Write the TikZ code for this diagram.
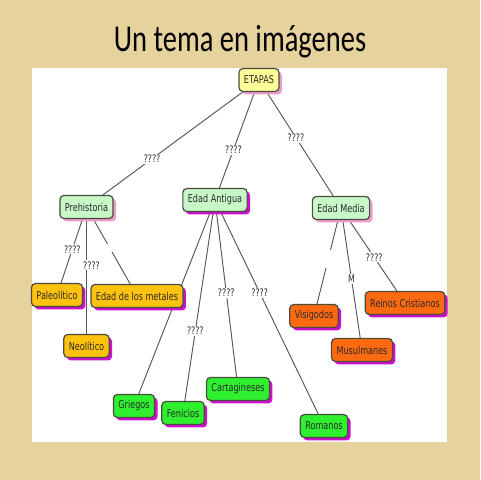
\documentclass[tikz,border=0pt]{standalone}
\usepackage{fontspec}
\usetikzlibrary{calc,shadows}
\newfontfamily\nodefont[FakeStretch=0.75]{DejaVu Sans}
\newfontfamily\titlefont[FakeStretch=0.75]{Carlito}
\definecolor{beige}{HTML}{E6D29C}
\definecolor{bordercol}{HTML}{4A4A40}
\definecolor{txtcol}{HTML}{2A2A2A}
\definecolor{linecol}{HTML}{555555}
\definecolor{pinksh}{HTML}{EE9CCB}
\definecolor{magsh}{HTML}{CC10CC}
\definecolor{yellowfill}{HTML}{FFFF99}
\definecolor{palegreen}{HTML}{C8F7C8}
\definecolor{goldfill}{HTML}{FFC20E}
\definecolor{greenfill}{HTML}{2EF02E}
\definecolor{orangefill}{HTML}{FF6A10}
\pgfdeclarelayer{bg}
\pgfdeclarelayer{edges}
\pgfsetlayers{bg,edges,main}
\tikzset{
  box/.style={rounded corners=3pt, draw=bordercol, line width=0.9pt,
    minimum height=17.25pt, inner xsep=3.75pt, inner ysep=1pt, text=txtcol,
    font=\nodefont\fontsize{8.1}{9.5}\selectfont},
  pinkshadow/.style={drop shadow={fill=pinksh, opacity=1, shadow xshift=2.2pt, shadow yshift=-2.2pt}},
  magshadow/.style={drop shadow={fill=magsh, opacity=1, shadow xshift=2.2pt, shadow yshift=-2.2pt}},
  rootbox/.style={box, fill=yellowfill, pinkshadow},
  catbox/.style={box, fill=palegreen, pinkshadow},
  catboxm/.style={box, fill=palegreen, magshadow},
  goldbox/.style={box, fill=goldfill, magshadow},
  greenbox/.style={box, fill=greenfill, magshadow},
  orangebox/.style={box, fill=orangefill, magshadow},
  conn/.style={draw=linecol, line width=0.7pt},
  lbl/.style={fill=white, inner sep=0.8pt, text=txtcol,
    font=\nodefont\fontsize{7.8}{9}\selectfont},
  gapnode/.style={fill=white, inner sep=0pt, minimum width=5pt},
}
\begin{document}
\begin{tikzpicture}[x=0.75pt, y=-0.75pt]
\useasboundingbox (0,0) rectangle (480,480);
\begin{pgfonlayer}{bg}
  \fill[beige] (0,0) rectangle (480,480);
  \fill[white] (32,68) rectangle (447,442);
\end{pgfonlayer}
\node[anchor=base, text=black, font=\titlefont\fontsize{28.5}{32}\selectfont] (title) at (240,51) {Un tema en imágenes};

% main nodes
\node[rootbox] (etapas) at (259,80) {ETAPAS};
\node[catbox] (pre) at (86.5,207) {Prehistoria};
\node[catboxm] (ant) at (215,200) {Edad Antigua};
\node[catbox] (med) at (341,208) {Edad Media};
\node[goldbox] (pal) at (57,295) {Paleolítico};
\node[goldbox] (met) at (137,296) {Edad de los metales};
\node[goldbox] (neo) at (86.5,346) {Neolítico};
\node[greenbox] (gri) at (134,406) {Griegos};
\node[greenbox] (fen) at (183,413) {Fenicios};
\node[greenbox] (car) at (238,389) {Cartagineses};
\node[greenbox] (rom) at (324,426) {Romanos};
\node[orangebox] (vis) at (314,316) {Visigodos};
\node[orangebox] (mus) at (362,350) {Musulmanes};
\node[orangebox] (rei) at (405,303) {Reinos Cristianos};

\begin{pgfonlayer}{edges}
  \draw[conn] (etapas) -- (pre);
  \draw[conn] (etapas) -- (ant);
  \draw[conn] (etapas) -- (med);
  \draw[conn] (pre) -- (pal);
  \draw[conn] (pre) -- (neo);
  \draw[conn] (pre) -- (met);
  \draw[conn] (ant) -- (gri);
  \draw[conn] (ant) -- (fen);
  \draw[conn] (ant) -- (car);
  \draw[conn] (ant) -- (rom);
  \draw[conn] (med) -- (vis);
  \draw[conn] (med) -- (mus);
  \draw[conn] (med) -- (rei);
  \node[lbl] (l1) at ($(etapas)!0.62!(pre)$) {????};
  \node[lbl] (l2) at ($(etapas)!0.58!(ant)$) {????};
  \node[lbl] (l3) at ($(etapas)!0.45!(med)$) {????};
  \node[lbl] (l4) at ($(pre)!0.48!(pal)$) {????};
  \node[lbl, xshift=3.75pt] (l5) at ($(pre)!0.42!(neo)$) {????};
  \node[gapnode, minimum height=6pt] (g1) at ($(pre)!0.46!(met)$) {};
  \node[lbl] (l6) at ($(ant)!0.615!(fen)$) {????};
  \node[lbl] (l7) at ($(ant)!0.49!(car)$) {????};
  \node[lbl] (l8) at ($(ant)!0.41!(rom)$) {????};
  \node[gapnode, minimum height=13.5pt] (g2) at ($(med)!0.47!(vis)$) {};
  \node[lbl] (l9) at ($(med)!0.5!(mus)$) {M};
  \node[lbl] (l10) at ($(med)!0.52!(rei)$) {????};
\end{pgfonlayer}
\end{tikzpicture}
\end{document}
